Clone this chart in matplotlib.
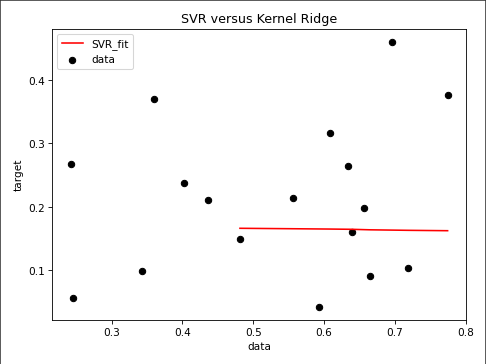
import numpy as np
import matplotlib
matplotlib.use("Agg")
import matplotlib.pyplot as plt
from matplotlib.lines import Line2D

# data points
x_data = [0.2426, 0.2450, 0.3427, 0.3602, 0.4025, 0.4368, 0.4814, 0.5562, 0.5932,
          0.6083, 0.6337, 0.6571, 0.6394, 0.6656, 0.6966, 0.7192, 0.7747]
y_data = [0.2671, 0.0568, 0.0984, 0.3696, 0.2372, 0.2108, 0.1489, 0.2145, 0.0426,
          0.3169, 0.2640, 0.1977, 0.1609, 0.0915, 0.4595, 0.1036, 0.3759]

# SVR fitted curve
x_fit = [0.4814, 0.5562, 0.6083, 0.6394, 0.6656, 0.7192, 0.7747]
y_fit = [0.1662, 0.1655, 0.1650, 0.1646, 0.1638, 0.1630, 0.1624]

if __name__ == "__main__":
    fig = plt.figure(figsize=(6.4, 4.8), dpi=76)
    ax = fig.add_axes([0.107, 0.1205, 0.852, 0.7985])

    ax.plot(x_fit, y_fit, color='red', label='SVR_fit')
    ax.scatter(x_data, y_data, color='black', label='data')

    ax.set_xlabel('data')
    ax.set_ylabel('target')
    ax.set_title('SVR versus Kernel Ridge')
    ax.legend(loc='upper left')

    # dark frame on left, top and right of the figure (bottom is cut off)
    fig.lines.append(Line2D([0.001, 0.001, 0.999, 0.999], [0, 0.998, 0.998, 0],
                            transform=fig.transFigure, color='#333333', linewidth=1.5))

    fig.savefig('out.png', dpi=76)
